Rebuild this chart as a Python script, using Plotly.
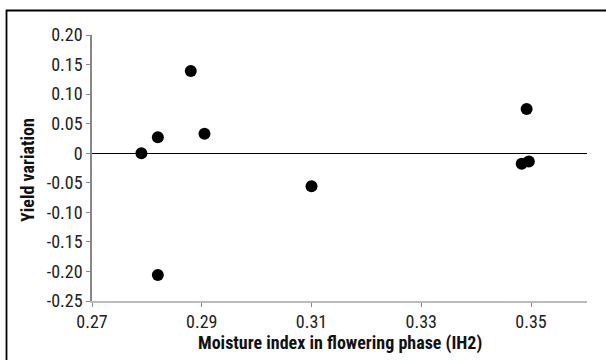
import plotly.graph_objects as go

moisture_index = [0.279, 0.282, 0.2905, 0.282, 0.288, 0.310, 0.3492, 0.3483, 0.3496]
yield_variation = [0.000, 0.027, 0.033, -0.206, 0.139, -0.056, 0.075, -0.018, -0.014]

x_ticks = [0.27, 0.29, 0.31, 0.33, 0.35]
x_tick_labels = ["0.27", "0.29", "0.31", "0.33", "0.35"]
y_ticks = [0.20, 0.15, 0.10, 0.05, 0.0, -0.05, -0.10, -0.15, -0.20, -0.25]
y_tick_labels = ["0.20", "0.15", "0.10", "0.05", "0", "-0.05", "-0.10", "-0.15", "-0.20", "-0.25"]

FONT = "Roboto Condensed, Liberation Sans Narrow, sans-serif"

fig = go.Figure()
fig.add_trace(go.Scatter(
    x=moisture_index, y=yield_variation, mode="markers",
    marker=dict(color="black", size=12, line=dict(width=0)),
    showlegend=False, hoverinfo="x+y",
))

L, R, T, B = 92, 19, 35, 59
W, H = 606, 360
pw, ph = W - L - R, H - T - B

def px_x(p):
    return (p - L) / pw

def px_y(p):
    return (H - B - p) / ph

fig.update_layout(
    width=W, height=H,
    margin=dict(l=L, r=R, t=T, b=B, pad=0),
    paper_bgcolor="white", plot_bgcolor="white",
    font=dict(family=FONT, size=18, color="#222"),
    xaxis=dict(
        range=[0.27, 0.3602], tickvals=x_ticks, ticktext=x_tick_labels,
        showgrid=False, zeroline=False, showline=True, linecolor="#bbbbbb", linewidth=1.5,
        ticks="outside", ticklen=4, tickcolor="#888888", tickwidth=1,
        tickfont=dict(family=FONT, size=18, color="#222"),
    ),
    yaxis=dict(
        range=[-0.25, 0.20], tickvals=y_ticks, ticktext=y_tick_labels,
        showgrid=False, zeroline=True, zerolinecolor="black", zerolinewidth=1.2,
        showline=True, linecolor="#888888", linewidth=1.5,
        ticks="outside", ticklen=4, tickcolor="#888888", tickwidth=1,
        tickfont=dict(family=FONT, size=18, color="#222"),
    ),
    shapes=[
        dict(type="line", xref="paper", yref="paper",
             x0=px_x(6), x1=px_x(606), y0=px_y(10.5), y1=px_y(10.5),
             line=dict(color="black", width=1.8), layer="below"),
        dict(type="line", xref="paper", yref="paper",
             x0=px_x(6.5), x1=px_x(6.5), y0=px_y(10), y1=px_y(360),
             line=dict(color="black", width=1.8), layer="below"),
    ],
    annotations=[
        dict(text="<b>Moisture index in flowering phase (IH2)</b>", xref="paper", yref="paper",
             x=0.5, y=px_y(343), xanchor="center", yanchor="middle", showarrow=False,
             font=dict(family=FONT, size=18, color="#111")),
        dict(text="<b>Yield variation</b>", xref="paper", yref="paper",
             x=px_x(27), y=px_y(170), xanchor="center", yanchor="middle",
             textangle=-90, showarrow=False,
             font=dict(family=FONT, size=18, color="#111")),
    ],
)

fig.write_html(
    "out.html",
    config={"displayModeBar": False},
    post_script="document.body.style.margin='0';document.body.style.overflow='hidden';",
)
